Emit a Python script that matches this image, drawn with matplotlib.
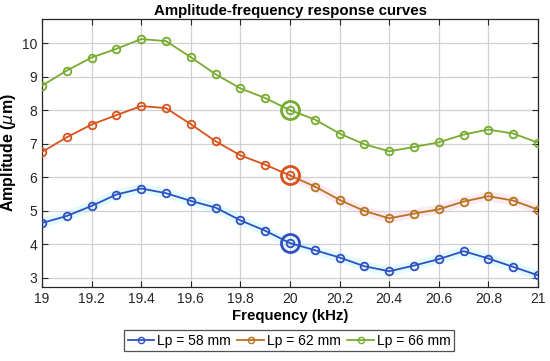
#!/usr/bin/env python3

import numpy as np
import matplotlib
matplotlib.use("Agg")
import matplotlib.pyplot as plt
from matplotlib.lines import Line2D

# ==========================
# DATA
# ==========================
freq = [19.0, 19.1, 19.2, 19.3, 19.4, 19.5, 19.6, 19.7, 19.8, 19.9, 20.0,
        20.1, 20.2, 20.3, 20.4, 20.5, 20.6, 20.7, 20.8, 20.9, 21.0]

amp_58 = [4.63, 4.84, 5.14, 5.48, 5.66, 5.52, 5.29, 5.09, 4.71, 4.40, 4.03,
          3.82, 3.60, 3.34, 3.19, 3.36, 3.55, 3.79, 3.57, 3.32, 3.07]
amp_62 = [6.75, 7.19, 7.57, 7.85, 8.12, 8.06, 7.58, 7.07, 6.65, 6.37, 6.05,
          5.72, 5.32, 4.99, 4.77, 4.91, 5.04, 5.27, 5.43, 5.30, 5.03]
amp_66 = [8.73, 9.18, 9.57, 9.83, 10.12, 10.06, 9.58, 9.07, 8.65, 8.36, 8.00,
          7.72, 7.30, 6.98, 6.77, 6.90, 7.04, 7.27, 7.42, 7.30, 7.03]

labels = ["Lp = 58 mm", "Lp = 62 mm", "Lp = 66 mm"]
highlight_f = 20.0

# ==========================
# STYLE
# ==========================
BLUE = "#3050c2"
RED = "#d9531c"
BROWN = "#b8741f"
GREEN = "#77ac30"

plt.rcParams["font.family"] = ["Liberation Sans", "DejaVu Sans"]

fig = plt.figure(figsize=(5.5, 3.61), dpi=100)
ax = fig.add_axes([42 / 550, 1 - 287 / 361, (538 - 42) / 550, (287 - 19) / 361])

x = np.array(freq)
hi = int(np.argmin(np.abs(x - highlight_f)))
mk = dict(marker="o", markersize=5.5, markerfacecolor="none", markeredgewidth=1.3, lw=1.3)

# faint halo behind blue line and right part of the red one
ax.plot(x, amp_58, color="#8ff0f5", lw=7, alpha=0.25, zorder=1, solid_capstyle="butt")
ax.plot(x[hi:], np.array(amp_62)[hi:], color="#f5b0d5", lw=7, alpha=0.25, zorder=1,
        solid_capstyle="butt")

ax.plot(x, amp_58, color=BLUE, zorder=3, **mk)
ax.plot(x[:hi + 1], amp_62[:hi + 1], color=RED, zorder=3, **mk)
ax.plot(x[hi + 1:], amp_62[hi + 1:], color=BROWN, zorder=3, **mk)
ax.plot([x[hi], x[hi + 1]], [amp_62[hi], amp_62[hi + 1]], color=BROWN, lw=1.3, zorder=2)
ax.plot(x, amp_66, color=GREEN, zorder=3, **mk)

# larger ring at the highlighted frequency
for series, c in [(amp_58, BLUE), (amp_62, RED), (amp_66, GREEN)]:
    ax.plot(x[hi], series[hi], marker="o", markersize=13, markerfacecolor="none",
            markeredgecolor=c, markeredgewidth=2.0, zorder=4)

ax.set_xlim(19, 21)
ax.set_ylim(2.72, 10.72)
ax.set_xticks(np.arange(19, 21.01, 0.2))
ax.set_xticklabels([f"{v:g}" for v in np.round(np.arange(19, 21.01, 0.2), 1)])
ax.set_yticks(range(3, 11))
ax.tick_params(direction="in", top=True, right=True, labelsize=10, colors="#262626",
               length=4, width=0.8)
ax.grid(True, color="#d0d0d0", lw=0.9)
ax.set_axisbelow(True)
for s in ax.spines.values():
    s.set_color("#262626")
    s.set_linewidth(0.9)

ax.set_title("Amplitude-frequency response curves", fontsize=10.8, fontweight="bold", pad=3)
ax.set_xlabel("Frequency (kHz)", fontsize=10.8, fontweight="bold", labelpad=2)
ax.set_ylabel(r"Amplitude ($\mu$m)", fontsize=11.5, fontweight="bold", labelpad=3)

handles = [Line2D([], [], color=c, marker="o", markersize=4.5, markerfacecolor="none", lw=1.3)
           for c in [BLUE, BROWN, GREEN]]
leg = fig.legend(handles, labels, loc="lower center", bbox_to_anchor=(289 / 550, 3 / 361),
                 ncol=3, fontsize=10, frameon=True, fancybox=False, handlelength=1.9,
                 handletextpad=0.2, columnspacing=0.5, borderpad=0.25)
leg.get_frame().set_edgecolor("#262626")
leg.get_frame().set_linewidth(0.9)

fig.savefig("out.png", dpi=100)
